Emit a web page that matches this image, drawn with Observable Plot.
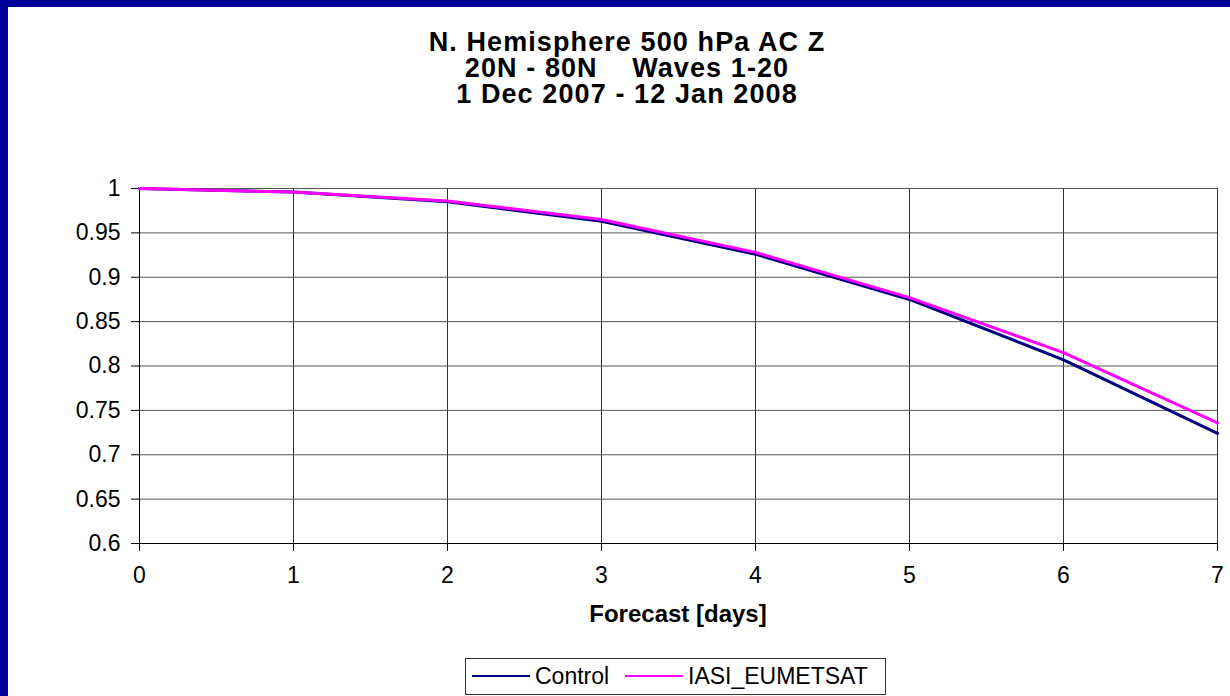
<!DOCTYPE html>
<html>
<head>
<meta charset="utf-8">
<script src="https://cdn.jsdelivr.net/npm/d3@7"></script>
<script src="https://cdn.jsdelivr.net/npm/@observablehq/plot@0.6"></script>
<style>
  html, body { margin: 0; padding: 0; background: #fff; }
  #frame { position: relative; width: 1230px; height: 696px; overflow: hidden; background: #fff;
           font-family: "Liberation Sans", Arial, sans-serif; }
  #bl { position: absolute; left: 0; top: 0; width: 8px; height: 696px; background: #000099; }
  #bt { position: absolute; left: 0; top: 0; width: 1230px; height: 7px; background: #000099; }
  #title { position: absolute; left: 277px; width: 700px; top: 29px; text-align: center;
           font-weight: bold; font-size: 27px; line-height: 26px; letter-spacing: 1.1px;
           white-space: pre; color: #000; }
  #chart { position: absolute; left: 0; top: 140px; }
  #xlabel { position: absolute; left: 478px; width: 400px; top: 600px; text-align: center;
            font-weight: bold; font-size: 24px; color: #000; }
  #legend { position: absolute; left: 465px; top: 658px; width: 421px; height: 37px;
            border: 1px solid #333; box-sizing: border-box; font-size: 23px; color: #000; }
  .sw { position: absolute; top: 16px; height: 0; border-top: 2.5px solid; width: 58px; }
  .lt { position: absolute; top: 4px; line-height: 26px; }
</style>
</head>
<body>
<div id="frame">
  <div id="title"></div>
  <div id="chart"></div>
  <div id="xlabel"></div>
  <div id="legend"></div>
  <div id="bl"></div>
  <div id="bt"></div>
</div>
<script>
const titleLines = ["N. Hemisphere 500 hPa AC Z", "20N - 80N    Waves 1-20", "1 Dec 2007 - 12 Jan 2008"];
const xLabel = "Forecast [days]";
const days = [0, 1, 2, 3, 4, 5, 6, 7];
const control = [1, 0.996, 0.985, 0.963, 0.926, 0.875, 0.807, 0.724];
const iasi = [1, 0.996, 0.986, 0.965, 0.928, 0.877, 0.815, 0.736];
const seriesNames = ["Control", "IASI_EUMETSAT"];
const seriesColors = ["#000080", "#FF00FF"];
const xTicks = [0, 1, 2, 3, 4, 5, 6, 7];
const yTicks = [0.6, 0.65, 0.7, 0.75, 0.8, 0.85, 0.9, 0.95, 1];

document.getElementById("title").textContent = titleLines.join("\n");
document.getElementById("xlabel").textContent = xLabel;

const rows = [];
days.forEach((d, i) => rows.push({day: d, value: control[i], series: seriesNames[0]}));
days.forEach((d, i) => rows.push({day: d, value: iasi[i], series: seriesNames[1]}));

const chart = Plot.plot({
  width: 1230,
  height: 490,
  marginTop: 48,
  marginLeft: 139,
  marginRight: 13,
  marginBottom: 87,
  style: {fontFamily: "'Liberation Sans', Arial, sans-serif", fontSize: "23px", color: "#000", background: "transparent", overflow: "visible"},
  x: {domain: [0, 7]},
  y: {domain: [0.6, 1]},
  color: {domain: seriesNames, range: seriesColors},
  marks: [
    Plot.gridX(xTicks, {stroke: "#333", strokeOpacity: 1, strokeWidth: 1}),
    Plot.gridY(yTicks, {stroke: "#555", strokeOpacity: 1, strokeWidth: 1}),
    Plot.ruleX([0], {stroke: "#000"}),
    Plot.ruleY([0.6], {stroke: "#000"}),
    Plot.axisX({ticks: xTicks, tickSize: 8, tickPadding: 15, label: null, tickFormat: d => String(d), fontSize: 23}),
    Plot.axisY({ticks: yTicks, tickSize: 8, tickPadding: 11, label: null, tickFormat: d => String(d), fontSize: 23}),
    Plot.line(rows, {x: "day", y: "value", z: "series", stroke: "series", strokeWidth: 3, strokeLinejoin: "round"})
  ]
});
document.getElementById("chart").appendChild(chart);

const legend = document.getElementById("legend");
const legendPos = [[6, 69], [159, 222]];
seriesNames.forEach((name, i) => {
  const sw = document.createElement("div");
  sw.className = "sw";
  sw.style.left = legendPos[i][0] + "px";
  sw.style.borderTopColor = seriesColors[i];
  legend.appendChild(sw);
  const t = document.createElement("div");
  t.className = "lt";
  t.style.left = legendPos[i][1] + "px";
  t.textContent = name;
  legend.appendChild(t);
});
</script>
</body>
</html>
